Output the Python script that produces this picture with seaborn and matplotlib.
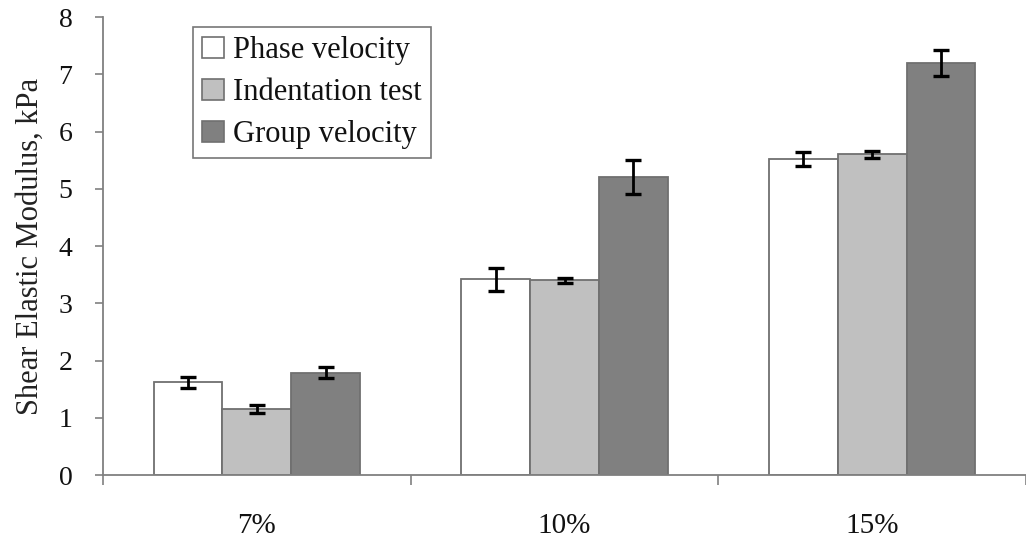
import matplotlib
matplotlib.use("Agg")
import matplotlib.pyplot as plt
import seaborn as sns
import pandas as pd
import numpy as np
from matplotlib.patches import Patch

categories = ["7%", "10%", "15%"]
series = ["Phase velocity", "Indentation test", "Group velocity"]
phase = [1.62, 3.42, 5.52]
indent = [1.15, 3.40, 5.60]
group = [1.79, 5.20, 7.20]
phase_err = [0.10, 0.20, 0.13]
indent_err = [0.07, 0.04, 0.06]
group_err = [0.10, 0.30, 0.23]
colors = ["#FFFFFF", "#C0C0C0", "#808080"]

rows = []
for s, vals, errs in zip(series, [phase, indent, group], [phase_err, indent_err, group_err]):
    for c, v, e in zip(categories, vals, errs):
        rows.append({"cat": c, "series": s, "val": v, "err": e})
df = pd.DataFrame(rows)

sns.set_theme(style="white")
plt.rcParams["font.family"] = ["Liberation Serif", "DejaVu Serif"]

fig = plt.figure(figsize=(10.26, 5.42), dpi=100)
ax = fig.add_axes([0.1004, 0.1236, 0.8996, 0.845])

sns.barplot(data=df, x="cat", y="val", hue="series", order=categories,
            hue_order=series, palette=colors, width=0.67, gap=0,
            errorbar=None, edgecolor="#707070", linewidth=1.3, ax=ax,
            legend=False)

patches = list(ax.patches)
k = 0
for s, vals, errs in zip(series, [phase, indent, group], [phase_err, indent_err, group_err]):
    for v, e in zip(vals, errs):
        p = patches[k]
        xc = p.get_x() + p.get_width() / 2
        ax.errorbar(xc, p.get_height(), yerr=e, fmt="none", ecolor="black",
                    elinewidth=2, capsize=5.5, capthick=2.4, zorder=5)
        k += 1

ax.set_xlim(-0.5, 2.5)
ax.set_ylim(0, 8)
ax.set_yticks(range(0, 9))
ax.set_xlabel("")
ax.set_ylabel("Shear Elastic Modulus, kPa", fontsize=22, color="#222222", labelpad=10)

for side in ["top", "right"]:
    ax.spines[side].set_visible(False)
for side in ["left", "bottom"]:
    ax.spines[side].set_color("#808080")
    ax.spines[side].set_linewidth(1.3)

ax.tick_params(axis="y", which="major", direction="out", length=6, width=1.2,
               color="#808080", labelsize=20, labelcolor="#111111", pad=16, left=True)
ax.set_xticks([-0.5, 0.5, 1.5, 2.5], minor=True)
ax.tick_params(axis="x", which="minor", direction="out", length=7, width=1.2,
               color="#808080", bottom=True)
ax.tick_params(axis="x", which="major", length=0, labelsize=21, labelcolor="#111111", pad=27)

handles = [Patch(facecolor=c, edgecolor="#707070", linewidth=1.2) for c in colors]
leg = ax.legend(handles, series, loc="upper left", bbox_to_anchor=(0.0975, 0.978),
                fontsize=22, frameon=True, fancybox=False, handlelength=0.7,
                handleheight=0.7, handletextpad=0.3, borderpad=0.3, labelspacing=0.42,
                borderaxespad=0)
leg.get_frame().set_edgecolor("#555555")
leg.get_frame().set_linewidth(1.2)
for t in leg.get_texts():
    t.set_color("#111111")

fig.savefig("out.png", dpi=100)
